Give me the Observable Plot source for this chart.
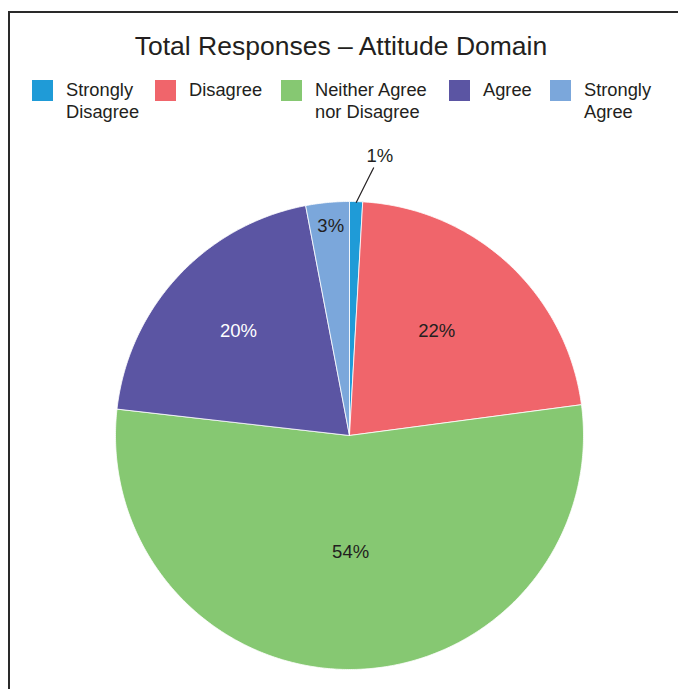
<!DOCTYPE html>
<html>
<head>
<meta charset="utf-8">
<script src="https://cdn.jsdelivr.net/npm/d3@7"></script>
<script src="https://cdn.jsdelivr.net/npm/@observablehq/plot@0.6"></script>
<style>
  html, body { margin: 0; padding: 0; background: #fff; }
  #wrap { position: relative; width: 678px; height: 689px; overflow: hidden; font-family: "Liberation Sans", Arial, sans-serif; color: #231f20; }
  #frame { position: absolute; left: 8px; top: 11px; width: 700px; height: 700px; border-left: 2px solid #2a2a2a; border-top: 2px solid #2a2a2a; }
  #title { position: absolute; left: 0; width: 678px; top: 31px; text-align: center; font-size: 26.5px; line-height: 30px; padding-left: 2px; }
  .sw { position: absolute; top: 80px; width: 21px; height: 21px; }
  .lt { position: absolute; top: 79px; font-size: 18.3px; line-height: 22px; }
  #chart { position: absolute; left: 0; top: 0; }
</style>
</head>
<body>
<div id="wrap">
  <div id="frame"></div>
  <div id="title">Total Responses – Attitude Domain</div>
  <div id="legend"></div>
  <div id="chart"></div>
</div>
<script>
// ---- data ----
const categories = ["Strongly Disagree", "Disagree", "Neither Agree nor Disagree", "Agree", "Strongly Agree"];
const legendLines = [["Strongly", "Disagree"], ["Disagree"], ["Neither Agree", "nor Disagree"], ["Agree"], ["Strongly", "Agree"]];
const values = [0.9, 22.0, 53.9, 20.2, 3.0];
const labels = ["1%", "22%", "54%", "20%", "3%"];
const colors = ["#1f9bd7", "#f0656b", "#86c872", "#5b55a3", "#7ba7db"];

// ---- legend (HTML) ----
const legendX = [32, 155, 281, 449, 550];
const legend = document.getElementById("legend");
categories.forEach((c, i) => {
  const sw = document.createElement("div");
  sw.className = "sw";
  sw.style.left = legendX[i] + "px";
  sw.style.background = colors[i];
  legend.appendChild(sw);
  const t = document.createElement("div");
  t.className = "lt";
  t.style.left = (legendX[i] + 34) + "px";
  t.innerHTML = legendLines[i].join("<br>");
  legend.appendChild(t);
});

// ---- pie geometry via d3.pie ----
const arcs = d3.pie().sort(null).value(d => d.value).startAngle(0).endAngle(2 * Math.PI)(
  categories.map((c, i) => ({category: c, value: values[i], label: labels[i]}))
);
const pts = [];
arcs.forEach(a => {
  const c = a.data.category;
  pts.push({category: c, x: 0, y: 0});
  const n = Math.max(2, Math.ceil((a.endAngle - a.startAngle) / (Math.PI / 360)));
  for (let k = 0; k <= n; k++) {
    const t = a.startAngle + (a.endAngle - a.startAngle) * k / n;
    pts.push({category: c, x: Math.sin(t), y: Math.cos(t)});
  }
  pts.push({category: c, x: 0, y: 0});
});

// label placement (style/positioning in code)
const labelRadius = {"Strongly Disagree": 1.2, "Disagree": 0.58, "Neither Agree nor Disagree": 0.5, "Agree": 0.65, "Strongly Agree": 0.9};
const labelShift = {"Strongly Disagree": 0.08, "Disagree": -0.05, "Neither Agree nor Disagree": 0, "Agree": 0.005, "Strongly Agree": 0.005};
const labelFill = {"Strongly Disagree": "#231f20", "Disagree": "#231f20", "Neither Agree nor Disagree": "#231f20", "Agree": "#ffffff", "Strongly Agree": "#231f20"};
const labelPts = arcs.map(a => {
  const c = a.data.category;
  const m = (a.startAngle + a.endAngle) / 2 + labelShift[c];
  const r = labelRadius[c];
  return {category: c, label: a.data.label, x: r * Math.sin(m), y: r * Math.cos(m), fill: labelFill[c]};
});
const sd = arcs[0];
const sdMid = (sd.startAngle + sd.endAngle) / 2;
const leader = [{x1: Math.sin(sdMid) * 0.995, y1: Math.cos(sdMid) * 0.995, x2: 1.15 * Math.sin(sdMid + 0.062), y2: 1.15 * Math.cos(sdMid + 0.062)}];

const chart = Plot.plot({
  width: 678,
  height: 689,
  margin: 0,
  style: {background: "transparent", fontFamily: "'Liberation Sans', Arial, sans-serif"},
  x: {domain: [-1, 1], range: [115, 583], axis: null},
  y: {domain: [-1, 1], range: [669, 201], axis: null},
  color: {domain: categories, range: colors},
  marks: [
    Plot.line(pts, {x: "x", y: "y", z: "category", fill: "category", stroke: "#ffffff", strokeWidth: 0.8, curve: "linear"}),
    Plot.link(leader, {x1: "x1", y1: "y1", x2: "x2", y2: "y2", stroke: "#231f20", strokeWidth: 1.2}),
    Plot.text(labelPts, {x: "x", y: "y", text: "label", fill: "fill", fontSize: 18.5, dy: 0})
  ]
});
document.getElementById("chart").appendChild(chart);
</script>
</body>
</html>
